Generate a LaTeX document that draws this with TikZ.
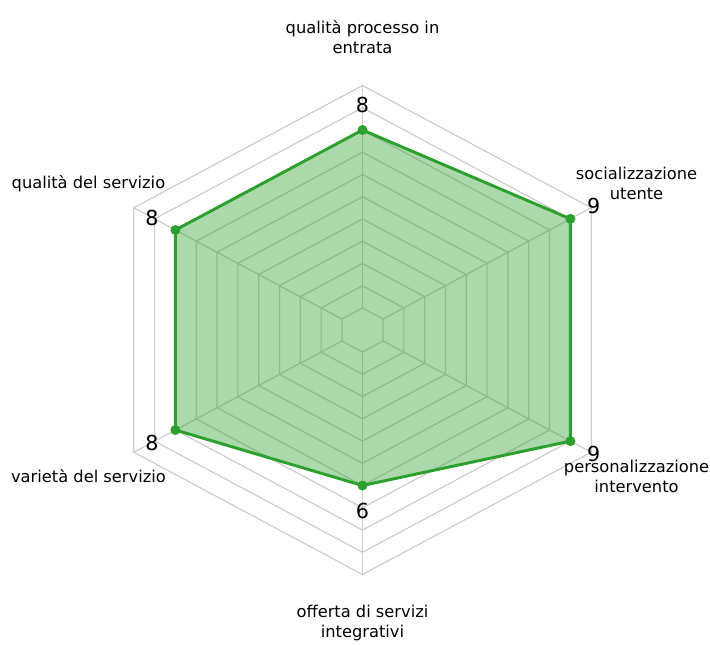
\documentclass[tikz,border=0pt]{standalone}
\usepackage{fontspec}
\setmainfont{DejaVu Sans}
\definecolor{radargreen}{HTML}{2CA02C}

\begin{document}
\begin{tikzpicture}[
  x=0.75pt, y=0.75pt,
  grid/.style={draw=gray!40, line width=0.9pt},
  area/.style={fill=radargreen, fill opacity=0.4},
  outline/.style={draw=radargreen, line width=2.2pt, line join=round},
  point/.style={circle, fill=radargreen, inner sep=0pt, minimum size=7.5pt},
  value/.style={font=\fontsize{15.5}{18}\selectfont, inner sep=0pt},
  axislabel/.style={align=center, font=\fontsize{12.2}{15.5}\selectfont, inner sep=0pt}
]

% Frame of the picture
\useasboundingbox (-362.5,-314) rectangle (347.5,330);

\begin{scope}[xscale=1.08]

% Hexagonal grid
\foreach \k in {0,...,10} {
  \draw[grid] (90:{22+22.25*\k}) \foreach \a in {30,-30,-90,-150,150} {-- (\a:{22+22.25*\k})} -- cycle;
}
\foreach \a in {90,30,-30,-90,-150,150}
  \draw[grid] (\a:22) -- (\a:244.5);

% Data points
\coordinate (p1) at (90:{22+22.25*8});
\coordinate (p2) at (30:{22+22.25*9});
\coordinate (p3) at (-30:{22+22.25*9});
\coordinate (p4) at (-90:{22+22.25*6});
\coordinate (p5) at (-150:{22+22.25*8});
\coordinate (p6) at (150:{22+22.25*8});

\fill[area] (p1) -- (p2) -- (p3) -- (p4) -- (p5) -- (p6) -- cycle;
\draw[outline] (p1) -- (p2) -- (p3) -- (p4) -- (p5) -- (p6) -- cycle;

\foreach \p in {p1,p2,p3,p4,p5,p6}
  \node[point] at (\p) {};

% Values
\node[value] (v1) at (90:{47+22.25*8}) {8};
\node[value] (v2) at (30:{47+22.25*9}) {9};
\node[value] (v3) at (-30:{47+22.25*9}) {9};
\node[value] (v4) at (-90:{47+22.25*6}) {6};
\node[value] (v5) at (-150:{47+22.25*8}) {8};
\node[value] (v6) at (150:{47+22.25*8}) {8};

% Axis labels
\node[axislabel] (l1) at (90:293) {qualità processo in\\entrata};
\node[axislabel] (l2) at (30:293) {socializzazione\\utente};
\node[axislabel] (l3) at (-30:293) {personalizzazione\\intervento};
\node[axislabel] (l4) at (-90:293) {offerta di servizi\\integrativi};
\node[axislabel] (l5) at (-150:293) {varietà del servizio};
\node[axislabel] (l6) at (150:293) {qualità del servizio};

\end{scope}

\end{tikzpicture}
\end{document}
